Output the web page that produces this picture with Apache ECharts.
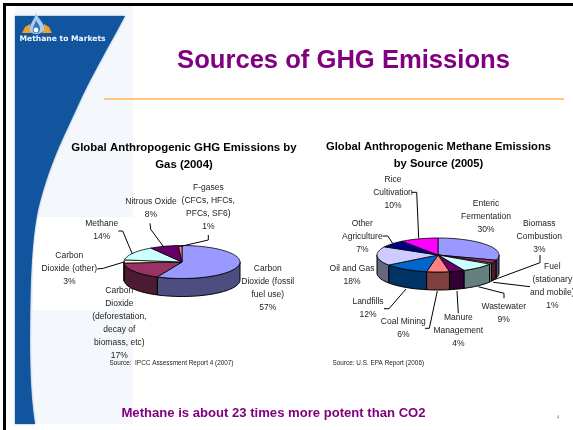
<!DOCTYPE html>
<html><head><meta charset="utf-8">
<style>html,body{margin:0;padding:0;background:#fff}#c{width:573px;height:430px}</style>
<script src="https://cdn.jsdelivr.net/npm/echarts@6/dist/echarts.min.js"></script>
</head><body><div id="c"></div>
<script>
// ---- data ----
const gasNames = ['Carbon\nDioxide (fossil\nfuel use)', 'Carbon\nDioxide\n(deforestation,\ndecay of\nbiomass, etc)', 'Carbon\nDioxide (other)', 'Methane', 'Nitrous Oxide', 'F-gases\n(CFCs, HFCs,\nPFCs, SF6)'];
const gasValues = [57, 17, 3, 14, 8, 1];
const sourceNames = ['Enteric\nFermentation', 'Biomass\nCombustion', 'Fuel\n(stationary\nand mobile)', 'Wastewater', 'Manure\nManagement', 'Coal Mining', 'Landfills', 'Oil and Gas', 'Other\nAgriculture', 'Rice\nCultivation'];
const sourceValues = [30, 3, 1, 9, 4, 6, 12, 18, 7, 10];
const titleText = 'Sources of GHG Emissions';
const gasTitle = 'Global Anthropogenic GHG Emissions by\nGas (2004)';
const sourceTitle = 'Global Anthropogenic Methane Emissions\nby Source (2005)';
const gasSource = 'Source:  IPCC Assessment Report 4 (2007)';
const sourceSource = 'Source: U.S. EPA Report (2006)';
const footerText = 'Methane is about 23 times more potent than CO2';

// ---- layout & style ----
const gasPie = {cx:182, cy:262, rx:58, ry:16.5, depth:18,
  colors:['#9999FF','#993366','#FFFFCC','#CCFFFF','#660066','#FF8080'],
  labelAt:[[267.7,269],[119.3,290.7],[69.3,256],[101.7,224],[151,201.7],[208.3,187.7]],
  leaders:[[],[],[[97.3,269],[103.3,268.3],[125,261.7]],[[118.3,231],[122.7,231],[132.3,254]],[[150,223.3],[150.7,229.3],[164,247.3]],[[208.3,235],[208.3,240],[179.3,246.7]]]};
const sourcePie = {cx:438, cy:255, rx:61, ry:17, depth:18,
  colors:['#9999FF','#993366','#FFFFCC','#CCFFFF','#660066','#FF8080','#0066CC','#CCCCFF','#000080','#FF00FF'],
  labelAt:[[486,204],[539.3,224],[552.3,266.7],[503.7,306.7],[458.3,317.7],[403.3,321.3],[368,302],[352,268.3],[362.3,224],[393,179.3]],
  leaders:[[],[[540,255],[540,262.7],[493.3,280]],[[530,286.7],[493.3,282.3]],[[504,298.3],[504,293.3],[478.3,286.7]],[[458.3,313.3],[457,291]],[[425,328.3],[429.3,328.3],[437.3,291]],[[384,308.7],[389,308.7],[406,289]],[],[[382.7,236],[387.7,236],[392.7,243.3]],[[411.7,192.3],[416.7,192.3],[418.7,238.3]]]};
const FONT = '"Liberation Sans", Arial, sans-serif';
const PURPLE = '#800080';

function shade(hex){
  const n=parseInt(hex.slice(1),16);
  const c=[n>>16,(n>>8)&255,n&255].map(v=>Math.round(v/2));
  return 'rgb('+c.join(',')+')';
}
function startAngle(values,i){
  const total=values.reduce((a,b)=>a+b,0);
  let s=0; for(let k=0;k<i;k++) s+=values[k];
  return s/total*360;
}
function pt(p,deg,dy){
  const r=deg*Math.PI/180;
  return [p.cx+p.rx*Math.sin(r), p.cy-p.ry*Math.cos(r)+(dy||0)];
}
function arc(p,a0,a1,dy){
  const out=[], n=Math.max(2,Math.ceil((a1-a0)/3));
  for(let k=0;k<=n;k++) out.push(pt(p,a0+(a1-a0)*k/n,dy));
  return out;
}
function wallSeries(p,values){
  return {type:'custom',coordinateSystem:'none',silent:true,animation:false,z:2,clip:false,data:values,
    renderItem(params,api){
      const i=params.dataIndex, a0=startAngle(values,i), a1=a0+api.value(0)/values.reduce((a,b)=>a+b,0)*360;
      const s=Math.max(a0,90), e=Math.min(a1,270);
      if(e<=s) return {type:'group',children:[]};
      const pts=arc(p,s,e,0).concat(arc(p,s,e,p.depth).reverse());
      return {type:'polygon',shape:{points:pts},style:{fill:shade(p.colors[i]),stroke:'#000',lineWidth:1}};
    }};
}
function topSeries(p,values){
  return {type:'custom',coordinateSystem:'none',silent:true,animation:false,z:3,clip:false,data:values,
    renderItem(params,api){
      const i=params.dataIndex, a0=startAngle(values,i), a1=a0+api.value(0)/values.reduce((a,b)=>a+b,0)*360;
      return {type:'polygon',shape:{points:[[p.cx,p.cy]].concat(arc(p,a0,a1,0))},
        style:{fill:p.colors[i],stroke:'#000',lineWidth:0.8}};
    }};
}
function labelSeries(p,values,names){
  return {type:'custom',coordinateSystem:'none',silent:true,animation:false,z:4,clip:false,data:values,
    renderItem(params,api){
      const i=params.dataIndex, at=p.labelAt[i], kids=[];
      if(p.leaders[i].length) kids.push({type:'polyline',shape:{points:p.leaders[i]},style:{fill:'none',stroke:'#000',lineWidth:1}});
      kids.push({type:'text',x:at[0],y:at[1]-6.5,style:{text:names[i]+'\n'+api.value(0)+'%',fill:'#222',
        font:'8.5px '+FONT,lineHeight:13,align:'center',verticalAlign:'top'}});
      return {type:'group',children:kids};
    }};
}
function txt(x,y,text,size,opt){
  opt=opt||{};
  return {type:'text',x:x,y:y,z:5,silent:true,
    style:{text:text,fill:opt.fill||'#000',font:(opt.bold?'bold ':'')+size+'px '+FONT,align:'center',verticalAlign:'middle',lineHeight:opt.lh}};
}
// flatten a start point + cubic segments into polygon points
function curve(start,segs,tail){
  const out=[start]; let p0=start;
  segs.forEach(s=>{
    for(let k=1;k<=12;k++){
      const t=k/12,u=1-t;
      out.push([0,1].map(d=>u*u*u*p0[d]+3*u*u*t*s[0][d]+3*u*t*t*s[1][d]+t*t*t*s[2][d]));
    }
    p0=s[2];
  });
  return out.concat(tail||[]);
}
const bannerEdge=curve([125,16],[[[108,48],[88,82],[76,110]],[[62,140],[48,168],[38,210]],[[32,240],[30,277],[30,343]],[[30,380],[32,405],[35,424]]],[[15,424],[15,16]]);
const flameOuter=curve([36,12],[[[37,18],[44,22],[44,28]],[[44,32],[40,34],[36,34]],[[32,34],[29,32],[30,27]],[[31,22],[35,19],[36,12]]]);
const flameInner=curve([36,20],[[[37,23],[40,25],[40,29]],[[40,32],[38,33],[36,33]],[[34,33],[32,32],[33,29]],[[33,26],[35,24],[36,20]]]);

const chart=echarts.init(document.getElementById('c'),null,{renderer:'canvas'});
chart.setOption({
  animation:false,
  backgroundColor:'#fff',
  graphic:{elements:[
    {type:'rect',z:0,shape:{x:15,y:6,width:118,height:418},style:{fill:'#F4F7FB'},silent:true},
    {type:'rect',z:0,shape:{x:33,y:217,width:100,height:93},style:{fill:'#FFFFFF'},silent:true},
    {type:'polygon',z:1,silent:true,shape:{points:bannerEdge},style:{fill:'#11559F',shadowBlur:2,shadowColor:'#5f86b8'}},
    {type:'polygon',z:1,silent:true,shape:{points:[[22,33],[25,27],[30,24],[31,33]]},style:{fill:'#E8A030'}},
    {type:'polygon',z:1,silent:true,shape:{points:[[42,33],[44,24],[49,27],[52,33]]},style:{fill:'#E8A030'}},
    {type:'polygon',z:1,silent:true,shape:{points:flameOuter},style:{fill:'#A8CDEE'}},
    {type:'polygon',z:1,silent:true,shape:{points:flameInner},style:{fill:'#2F74BE'}},
    {type:'circle',z:1,silent:true,shape:{cx:36,cy:30,r:2.4},style:{fill:'#FFFFFF'}},
    {type:'text',z:2,silent:true,x:62.5,y:39.5,style:{text:'Methane to Markets',fill:'#F4F8FC',font:'bold 7.6px "DejaVu Sans", sans-serif',align:'center',verticalAlign:'middle'}},
    {type:'rect',z:6,silent:true,shape:{x:3,y:3,width:570,height:3},style:{fill:'#000'}},
    {type:'rect',z:6,silent:true,shape:{x:3,y:3,width:3,height:427},style:{fill:'#000'}},
    {type:'rect',z:2,silent:true,shape:{x:104,y:98,width:460,height:2},style:{fill:'#FFC77D'}},
    txt(343.5,61,titleText,25.6,{bold:true,fill:PURPLE}),
    txt(184,156.5,gasTitle,11.4,{bold:true,lh:17}),
    txt(438.5,155.5,sourceTitle,11.2,{bold:true,lh:17}),
    txt(171.5,363.7,gasSource,6.4,{fill:'#222'}),
    txt(378.3,363.7,sourceSource,6.4,{fill:'#222'}),
    txt(273.5,413,footerText,13.1,{bold:true,fill:PURPLE}),
    txt(558,418,'4',4.5,{fill:'#888'})
  ]},
  series:[
    wallSeries(gasPie,gasValues),topSeries(gasPie,gasValues),labelSeries(gasPie,gasValues,gasNames),
    wallSeries(sourcePie,sourceValues),topSeries(sourcePie,sourceValues),labelSeries(sourcePie,sourceValues,sourceNames)
  ]
});
</script></body></html>
